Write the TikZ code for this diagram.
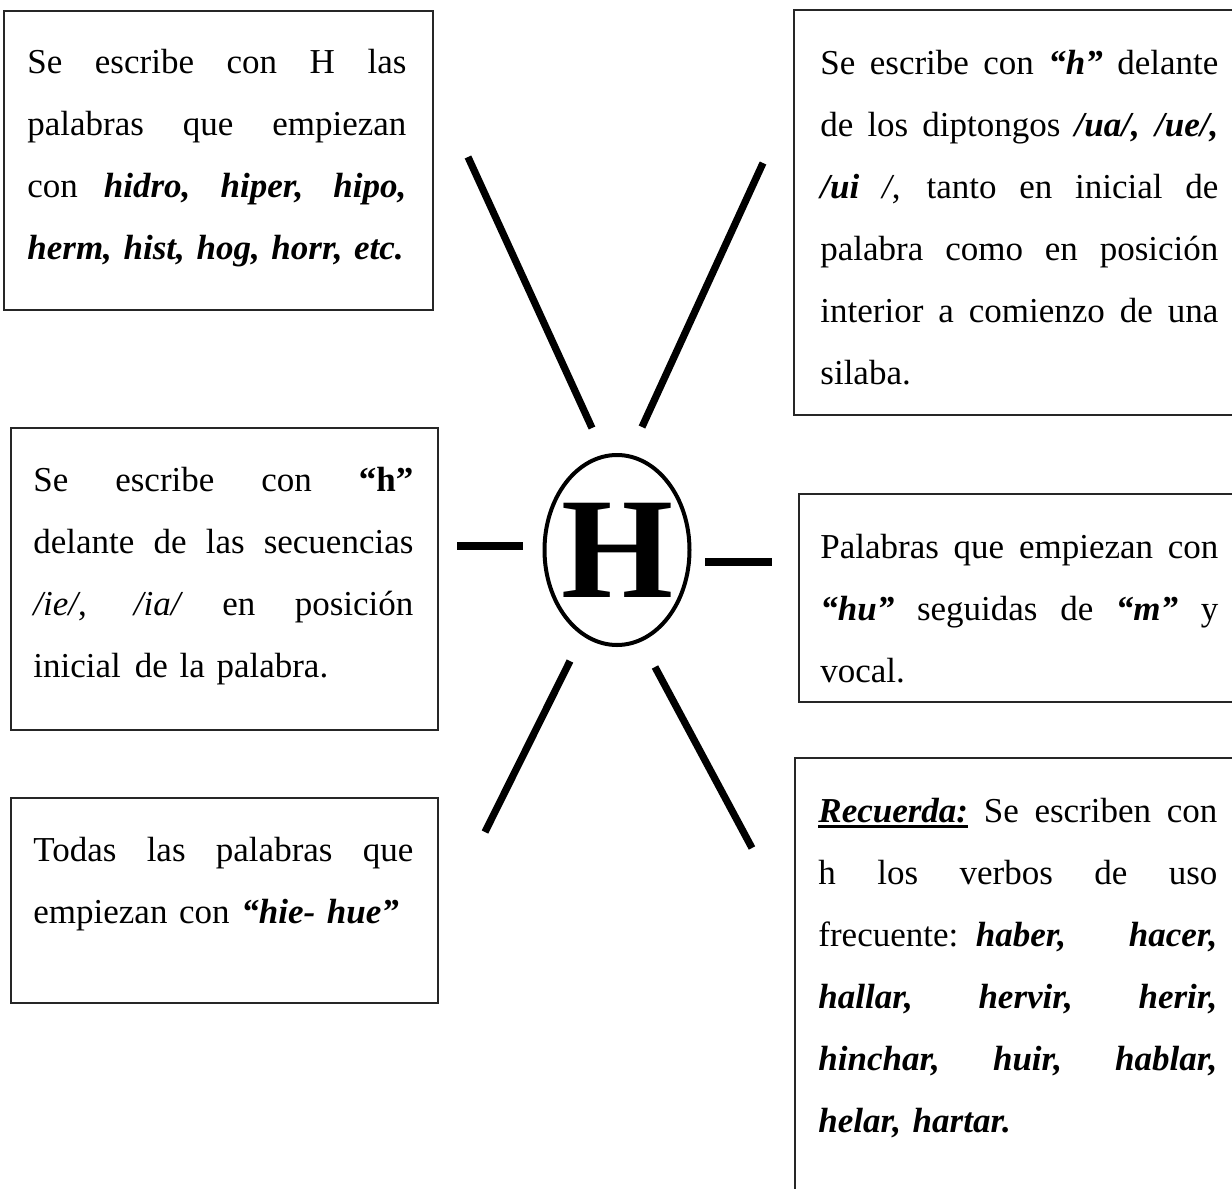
\documentclass[tikz,border=0pt]{standalone}
\usepackage{fontspec}
\setmainfont{Liberation Serif}
\usetikzlibrary{shapes.geometric}
\newcommand\strutx{\vrule height 22pt depth 0pt width 0pt}
\newcommand\jline[1]{\hbox to \hsize{\spaceskip=.25em plus 1fil\relax\strutx #1}}
\newcommand\eline[1]{\hbox{\strutx #1}}
\newcommand\bi[1]{\textbf{\textit{#1}}}
\newcommand\uline[1]{\setbox0=\hbox{#1}\rlap{\vrule height -1.3pt depth 2.8pt width \wd0}\box0\relax}
\begin{document}
\begin{tikzpicture}[x=0.5pt,y=-0.5pt,
  frame/.style={draw=black!85, line width=1pt},
  txt/.style={anchor=north west, inner sep=0pt, text width=#1,
    font=\fontsize{17.5}{31}\selectfont},
  ray/.style={line width=3.6pt, line cap=butt}]
\useasboundingbox (0,0) rectangle (1232,1189);
\clip (0,0) rectangle (1232,1189);
\fill[white] (0,0) rectangle (1232,1189);

% boxes
\draw[frame] (4,11) rectangle (433,310);
\draw[frame] (794,10) rectangle (1260,415);
\draw[frame] (11,428) rectangle (438,730);
\draw[frame] (799,494) rectangle (1260,702);
\draw[frame] (11,798) rectangle (438,1003);
\draw[frame] (795,758) rectangle (1260,1230);

% texts
\node[txt=189.5pt] (t1) at (27,29) {%
\jline{Se escribe con H las}
\jline{palabras que empiezan}
\jline{con \bi{hidro,} \bi{hiper,} \bi{hipo,}}
\eline{\bi{herm, hist, hog, horr, etc.}}};

\node[txt=199pt] (t2) at (820,30) {%
\jline{Se escribe con \bi{“h”} delante}
\jline{de los diptongos \bi{/ua/,} \bi{/ue/,}}
\jline{\bi{/ui} \textit{/}, tanto en inicial de}
\jline{palabra como en posición}
\jline{interior a comienzo de una}
\eline{silaba.}};

\node[txt=190pt] (t3) at (33,447) {%
\jline{Se escribe con \textbf{“h”}}
\jline{delante de las secuencias}
\jline{\textit{/ie/}, \textit{/ia/} en posición}
\eline{inicial\hspace{0.4em}de la palabra.}};

\node[txt=199pt] (t4) at (820,514) {%
\jline{Palabras que empiezan con}
\jline{\bi{“hu”} seguidas de \bi{“m”} y}
\eline{vocal.}};

\node[txt=190pt] (t5) at (33,817) {%
\jline{Todas las palabras que}
\eline{empiezan con \bi{“hie- hue”}}};

\node[txt=199.5pt] (t6) at (818,778) {%
\jline{\uline{\bi{Recuerda:}} Se escriben con}
\jline{h los verbos de uso}
\jline{frecuente: \bi{haber,} \bi{hacer,}}
\jline{\bi{hallar,} \bi{hervir,} \bi{herir,}}
\jline{\bi{hinchar,} \bi{huir,} \bi{hablar,}}
\eline{\bi{helar, hartar.}}};

% centre
\node[ellipse, draw, line width=2pt, minimum width=72.5pt, minimum height=95pt,
  inner sep=0pt] (E) at (617,550) {};
\node[inner sep=0pt, font=\fontsize{72}{72}\selectfont\bfseries] (H) at (E.center) {H};

% rays
\coordinate (a1) at (468,157); \coordinate (a2) at (592,428);
\coordinate (b1) at (763,163); \coordinate (b2) at (642,427);
\coordinate (c1) at (457,546); \coordinate (c2) at (523,546);
\coordinate (d1) at (705,562); \coordinate (d2) at (772,562);
\coordinate (e1) at (570,661); \coordinate (e2) at (485,832);
\coordinate (f1) at (655,667); \coordinate (f2) at (752,848);
\draw[ray] (a1) -- (a2);
\draw[ray] (b1) -- (b2);
\draw[ray] (c1) -- (c2);
\draw[ray] (d1) -- (d2);
\draw[ray] (e1) -- (e2);
\draw[ray] (f1) -- (f2);
\end{tikzpicture}
\end{document}
